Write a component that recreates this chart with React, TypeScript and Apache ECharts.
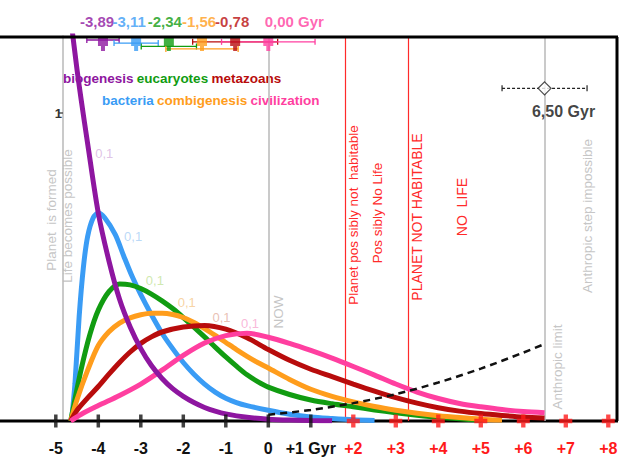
import React, { useEffect, useRef } from "react";
import * as echarts from "echarts";

// ---- time axis (Gyr, relative to today) ----
const X_TICKS = [-5, -4, -3, -2, -1, 0, 1, 2, 3, 4, 5, 6, 7, 8];
const PAST_TICKS = X_TICKS.filter((t) => t <= 1);
const FUTURE_TICKS = X_TICKS.filter((t) => t >= 2);

// ---- probability curves of each evolutionary step [Gyr, density] ----
const BIOGENESIS = [
  [-4.66, 1.32], [-4.5, 1.14], [-4.4, 1.04], [-4.25, 0.9], [-4.0, 0.675], [-3.75, 0.52],
  [-3.5, 0.395], [-3.25, 0.305], [-3.0, 0.235], [-2.75, 0.18], [-2.5, 0.138], [-2.25, 0.105],
  [-2.0, 0.08], [-1.75, 0.06], [-1.5, 0.044], [-1.25, 0.032], [-1.0, 0.023], [-0.5, 0.012],
  [0, 0.006], [0.5, 0.003], [1.0, 0.0015], [1.5, 0.0008],
];
const BACTERIA = [
  [-4.63, 0], [-4.55, 0.12], [-4.45, 0.34], [-4.35, 0.5], [-4.25, 0.6], [-4.12, 0.66],
  [-4.0, 0.675], [-3.85, 0.66], [-3.6, 0.605], [-3.4, 0.535], [-3.2, 0.468], [-3.0, 0.41],
  [-2.75, 0.345], [-2.5, 0.285], [-2.25, 0.235], [-2.0, 0.19], [-1.75, 0.152], [-1.5, 0.12],
  [-1.25, 0.094], [-1.0, 0.074], [-0.75, 0.06], [-0.5, 0.05], [0, 0.035], [0.5, 0.022],
  [1.0, 0.013], [1.5, 0.008], [2.0, 0.004], [2.5, 0.002],
];
const EUCARYOTES = [
  [-4.65, 0], [-4.55, 0.07], [-4.4, 0.17], [-4.2, 0.28], [-4.0, 0.36], [-3.75, 0.42],
  [-3.5, 0.445], [-3.25, 0.442], [-3.0, 0.43], [-2.75, 0.412], [-2.5, 0.39], [-2.25, 0.365],
  [-2.0, 0.336], [-1.75, 0.305], [-1.5, 0.273], [-1.25, 0.24], [-1.0, 0.208], [-0.75, 0.178],
  [-0.5, 0.15], [-0.25, 0.128], [0, 0.11], [0.5, 0.086], [1.0, 0.068], [1.5, 0.056],
  [2.0, 0.046], [2.5, 0.036], [3.0, 0.027], [3.5, 0.019], [4.0, 0.012], [4.5, 0.007], [5.0, 0.003],
];
const COMBIGENESIS = [
  [-4.65, 0], [-4.5, 0.07], [-4.25, 0.165], [-4.0, 0.245], [-3.75, 0.29], [-3.5, 0.318],
  [-3.25, 0.335], [-3.0, 0.345], [-2.75, 0.35], [-2.5, 0.35], [-2.25, 0.346], [-2.0, 0.336],
  [-1.75, 0.32], [-1.5, 0.3], [-1.25, 0.278], [-1.0, 0.255], [-0.75, 0.232], [-0.5, 0.21],
  [-0.25, 0.19], [0, 0.172], [0.5, 0.135], [1.0, 0.103], [1.5, 0.08], [2.0, 0.062],
  [2.5, 0.047], [3.0, 0.035], [3.5, 0.025], [4.0, 0.017], [4.5, 0.011], [5.0, 0.006], [5.5, 0.003],
];
const METAZOANS = [
  [-4.65, 0], [-4.5, 0.035], [-4.25, 0.075], [-4.0, 0.112], [-3.75, 0.152], [-3.5, 0.19],
  [-3.25, 0.224], [-3.0, 0.252], [-2.75, 0.273], [-2.5, 0.289], [-2.0, 0.305], [-1.5, 0.31],
  [-1.0, 0.298], [-0.5, 0.27], [0, 0.232], [0.5, 0.197], [1.0, 0.168], [1.5, 0.144],
  [2.0, 0.12], [2.5, 0.097], [3.0, 0.076], [3.5, 0.058], [4.0, 0.043], [4.5, 0.032],
  [5.0, 0.024], [5.5, 0.018], [6.0, 0.013], [6.5, 0.01],
];
const CIVILIZATION = [
  [-4.65, 0], [-4.4, 0.022], [-4.0, 0.05], [-3.5, 0.083], [-3.0, 0.12], [-2.5, 0.165],
  [-2.0, 0.213], [-1.5, 0.253], [-1.0, 0.277], [-0.5, 0.285], [0, 0.272], [0.5, 0.252],
  [1.0, 0.229], [1.5, 0.204], [2.0, 0.177], [2.5, 0.149], [3.0, 0.12], [3.5, 0.094],
  [4.0, 0.073], [4.5, 0.057], [5.0, 0.046], [5.5, 0.037], [6.0, 0.031], [6.5, 0.027],
];
// cumulative chance of the anthropic step, dashed
const ANTHROPIC_TREND = [
  [0, 0.02], [1, 0.036], [2, 0.058], [3, 0.087], [4, 0.125], [5, 0.17], [6, 0.222], [6.5, 0.25],
];

// ---- mean date of each step with its uncertainty (Gyr) ----
const STEP_NAMES = ["biogenesis", "bacteria", "eucaryotes", "combigenesis", "metazoans", "civilization"];
const STEP_MEAN = [-3.89, -3.11, -2.34, -1.56, -0.78, 0.0];
const STEP_ERR = [0.38, 0.52, 0.65, 0.85, 1.0, 1.1];
const STEP_BAR_LEVEL = [1.237, 1.227, 1.216, 1.208, 1.231, 1.231];
const STEP_MARK_LEVEL = 1.222;

const ANTHROPIC_MEAN = 6.5;
const ANTHROPIC_ERR = 1.0;
const ANTHROPIC_LEVEL = 1.08;

// ---- vertical reference dates ----
const NOW = 0;
const POSSIBLY_NOT_HABITABLE = 1.8;
const NOT_HABITABLE = 3.3;

// anchor of the small "0,1" marks next to each curve
const TENTH_MARKS = [
  [-3.86, 0.87], [-3.18, 0.6], [-2.67, 0.455], [-1.92, 0.385], [-1.1, 0.335], [-0.43, 0.316],
];

const COLORS = ["#8e16a0", "#3a9cf5", "#119c11", "#ff9d1c", "#b80c0c", "#ff3fa0"];
const SOFT_COLORS = ["#d8b4df", "#a9cff6", "#c4e39a", "#f6c98c", "#e4b09f", "#f8a6cf"];
const STEP_LABEL_DX = [-6, -7, -4, -3, -3, 26];
const FONT = "Liberation Sans, Arial, sans-serif";

const fmt = (v: number) => v.toFixed(2).replace(".", ",");

function buildOption() {
  const curves = [
    [BACTERIA, 1],
    [EUCARYOTES, 2],
    [COMBIGENESIS, 3],
    [METAZOANS, 4],
    [CIVILIZATION, 5],
    [BIOGENESIS, 0],
  ] as [number[][], number][];

  const curveSeries = curves.map(([data, idx], k) => ({
    name: STEP_NAMES[idx],
    type: "line",
    data,
    smooth: 0.3,
    showSymbol: false,
    clip: true,
    lineStyle: { color: COLORS[idx], width: 5 },
    z: 3,
    ...(k === 0
      ? {
          markLine: {
            silent: true,
            symbol: "none",
            label: { show: false },
            z: 1,
            data: [
              { xAxis: NOW, lineStyle: { color: "#b9b9b9", width: 1.5, type: "solid" } },
              { xAxis: POSSIBLY_NOT_HABITABLE, lineStyle: { color: "#ff2a2a", width: 1.2, type: "solid" } },
              { xAxis: NOT_HABITABLE, lineStyle: { color: "#ff2a2a", width: 1.2, type: "solid" } },
              { xAxis: ANTHROPIC_MEAN, lineStyle: { color: "#b9b9b9", width: 1.5, type: "solid" } },
            ],
          },
        }
      : {}),
  }));

  const errorBars = {
    type: "custom",
    encode: { x: 0, y: 2 },
    z: 4,
    data: STEP_MEAN.map((m, i) => [m, STEP_ERR[i], STEP_BAR_LEVEL[i]]),
    renderItem: (params: any, api: any) => {
      const c = api.value(0);
      const e = api.value(1);
      const lv = api.value(2);
      const a = api.coord([c - e, lv]);
      const b = api.coord([c + e, lv]);
      const style = { stroke: COLORS[params.dataIndex], lineWidth: 1.3 };
      return {
        type: "group",
        children: [
          { type: "line", shape: { x1: a[0], y1: a[1], x2: b[0], y2: b[1] }, style },
          { type: "line", shape: { x1: a[0], y1: a[1] - 3, x2: a[0], y2: a[1] + 3 }, style },
          { type: "line", shape: { x1: b[0], y1: b[1] - 3, x2: b[0], y2: b[1] + 3 }, style },
        ],
      };
    },
  };

  const stepMarkers = {
    type: "scatter",
    z: 5,
    clip: false,
    symbol: "path://M0,0H10V8H7V13H3V8H0Z",
    symbolSize: [10, 13],
    data: STEP_MEAN.map((m, i) => ({
      value: [m, STEP_MARK_LEVEL],
      itemStyle: { color: COLORS[i] },
      label: {
        show: true,
        position: "top",
        distance: 9,
        offset: [STEP_LABEL_DX[i], 0],
        formatter: fmt(m) + (i === STEP_MEAN.length - 1 ? " Gyr" : ""),
        color: COLORS[i],
        fontFamily: FONT,
        fontWeight: "bold",
        fontSize: 15,
      },
    })),
  };

  const anthropicBar = {
    type: "custom",
    encode: { x: 0, y: 2 },
    z: 4,
    data: [[ANTHROPIC_MEAN, ANTHROPIC_ERR, ANTHROPIC_LEVEL]],
    renderItem: (_p: any, api: any) => {
      const c = api.value(0);
      const e = api.value(1);
      const lv = api.value(2);
      const a = api.coord([c - e, lv]);
      const b = api.coord([c + e, lv]);
      const style = { stroke: "#222", lineWidth: 1.2 };
      return {
        type: "group",
        children: [
          { type: "line", shape: { x1: a[0], y1: a[1], x2: b[0], y2: b[1] }, style: { ...style, lineDash: [3, 2] } },
          { type: "line", shape: { x1: a[0], y1: a[1] - 3, x2: a[0], y2: a[1] + 3 }, style },
          { type: "line", shape: { x1: b[0], y1: b[1] - 3, x2: b[0], y2: b[1] + 3 }, style },
        ],
      };
    },
  };

  const anthropicMark = {
    type: "scatter",
    z: 5,
    symbol: "diamond",
    symbolSize: 13,
    itemStyle: { color: "#ffffff", borderColor: "#222", borderWidth: 1.2 },
    data: [[ANTHROPIC_MEAN, ANTHROPIC_LEVEL]],
    label: {
      show: true,
      position: "bottom",
      distance: 8,
      offset: [19, 0],
      formatter: fmt(ANTHROPIC_MEAN) + " Gyr",
      color: "#111",
      fontFamily: FONT,
      fontWeight: "bold",
      fontSize: 16,
    },
  };

  const trend = {
    name: "anthropic",
    type: "line",
    data: ANTHROPIC_TREND,
    smooth: 0.3,
    showSymbol: false,
    z: 3,
    lineStyle: { color: "#111", width: 2.5, type: [7, 5] },
  };

  const pastTicks = {
    type: "scatter",
    z: 6,
    clip: false,
    silent: true,
    symbol: "rect",
    symbolSize: [3.5, 13],
    itemStyle: { color: "#111" },
    data: PAST_TICKS.map((t) => [t, 0]),
  };

  const futureTicks = {
    type: "scatter",
    z: 6,
    clip: false,
    silent: true,
    symbol: "path://M4,0H8V4H12V8H8V12H4V8H0V4H4Z",
    symbolSize: 13,
    itemStyle: { color: "#ff1a1a" },
    data: FUTURE_TICKS.map((t) => [t, 0]),
  };

  const tenthMarks = {
    type: "scatter",
    z: 2,
    silent: true,
    symbolSize: 0,
    data: TENTH_MARKS.map((p, i) => ({
      value: p,
      label: {
        show: true,
        position: "inside",
        formatter: "0,1",
        color: SOFT_COLORS[i],
        fontFamily: FONT,
        fontSize: 13,
      },
    })),
  };

  const vText = (text: string, x: number, y: number, color: string, size = 13.5) => ({
    type: "text",
    x,
    y,
    rotation: Math.PI / 2,
    silent: true,
    style: {
      text,
      fill: color,
      font: `${size}px ${FONT}`,
      align: "center",
      verticalAlign: "middle",
    },
  });

  const GREY_TXT = "#c6c6c6";
  const RED_TXT = "#ff2a2a";

  return {
    animation: false,
    backgroundColor: "#ffffff",
    grid: { left: 55.8, right: 14.7, top: 36, bottom: 37, containLabel: false },
    xAxis: {
      type: "value",
      min: -5,
      max: 8,
      interval: 1,
      axisLine: { show: false },
      axisTick: { show: false },
      splitLine: { show: false },
      axisLabel: {
        margin: 19,
        fontFamily: FONT,
        fontWeight: "bold",
        fontSize: 16,
        formatter: (v: number) => (v === 1 ? "+1 Gyr" : v > 0 ? "+" + v : String(v)),
        color: (v: any) => (Number(v) >= 2 ? "#ff1a1a" : "#111"),
      },
    },
    yAxis: {
      type: "value",
      min: 0,
      max: 1.25,
      offset: -7.2,
      axisLine: { show: true, onZero: false, lineStyle: { color: "#b9b9b9", width: 1.5 } },
      axisTick: { show: true, customValues: [1], length: 4, lineStyle: { color: "#555", width: 1.5 } },
      axisLabel: {
        show: true,
        customValues: [1],
        margin: 1,
        color: "#333",
        fontFamily: FONT,
        fontWeight: "bold",
        fontSize: 13,
      },
      splitLine: { show: false },
    },
    graphic: [
      // frame
      { type: "line", z: 10, shape: { x1: 0, y1: 37, x2: 618, y2: 37 }, style: { stroke: "#000", lineWidth: 3 } },
      { type: "line", z: 10, shape: { x1: 617, y1: 37, x2: 617, y2: 421 }, style: { stroke: "#000", lineWidth: 3 } },
      { type: "line", z: 1, shape: { x1: 0, y1: 421, x2: 618, y2: 421 }, style: { stroke: "#000", lineWidth: 3 } },
      // step names
      {
        type: "text",
        x: 63,
        y: 78,
        silent: true,
        style: {
          text: "{a|biogenesis} {c|eucaryotes} {e|metazoans}",
          verticalAlign: "middle",
          rich: {
            a: { fill: COLORS[0], font: `bold 13.5px ${FONT}` },
            c: { fill: COLORS[2], font: `bold 13.5px ${FONT}` },
            e: { fill: COLORS[4], font: `bold 13.5px ${FONT}` },
          },
        },
      },
      {
        type: "text",
        x: 102,
        y: 100,
        silent: true,
        style: {
          text: "{b|bacteria} {d|combigenesis} {f|civilization}",
          verticalAlign: "middle",
          rich: {
            b: { fill: COLORS[1], font: `bold 13.5px ${FONT}` },
            d: { fill: COLORS[3], font: `bold 13.5px ${FONT}` },
            f: { fill: COLORS[5], font: `bold 13.5px ${FONT}` },
          },
        },
      },
      vText("Planet  is formed", 51, 220, GREY_TXT),
      vText("Life becomes possible", 67, 216, GREY_TXT),
      vText("NOW", 278, 312, GREY_TXT),
      vText("Planet pos sibly not  habitable", 353, 215, RED_TXT),
      vText("Pos sibly No Life", 377, 213, RED_TXT),
      vText("PLANET NOT HABITABLE", 417, 217, RED_TXT, 14),
      vText("NO  LIFE", 462, 207, RED_TXT, 14),
      vText("Anthropic limit", 557, 367, GREY_TXT),
      vText("Anthropic step impossible", 587, 216, GREY_TXT),
    ],
    series: [
      ...curveSeries,
      trend,
      errorBars,
      stepMarkers,
      anthropicBar,
      anthropicMark,
      tenthMarks,
      pastTicks,
      futureTicks,
    ],
  };
}

export default function App() {
  const ref = useRef<HTMLDivElement>(null);
  useEffect(() => {
    document.body.style.margin = "0";
    if (!ref.current) return;
    const chart = echarts.init(ref.current, undefined, { renderer: "svg" });
    chart.setOption(buildOption() as any);
    return () => chart.dispose();
  }, []);
  return <div ref={ref} style={{ width: 623, height: 458 }} />;
}
